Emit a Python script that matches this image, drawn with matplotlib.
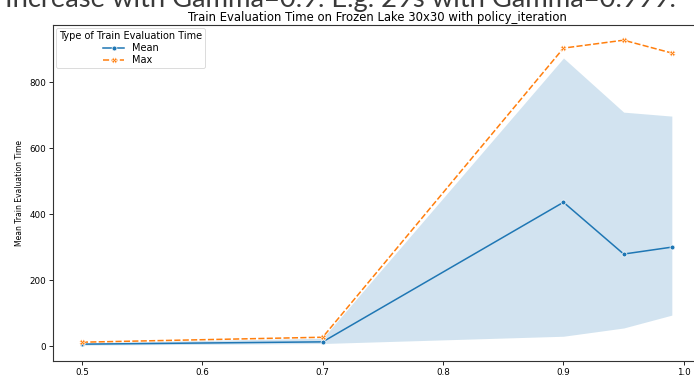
"""
Train evaluation time vs discount rate (mean with band, and max).
"""
import matplotlib
matplotlib.use("Agg")
import matplotlib.pyplot as plt
import numpy as np

# --- data ---
gammas = [0.5, 0.7, 0.9, 0.95, 0.99]
mean_time = [6, 13, 436, 279, 300]
mean_low = [3, 8, 30, 55, 94]
mean_high = [10, 24, 873, 709, 697]
max_time = [12, 27, 903, 927, 888]

x_ticks = [0.5, 0.6, 0.7, 0.8, 0.9, 1.0]
y_ticks = [0, 200, 400, 600, 800]

title = "Train Evaluation Time on Frozen Lake 30x30 with policy_iteration"
slide_text = "Increase with Gamma=0.9. E.g. 29s with Gamma=0.999."


def main():
    fig = plt.figure(figsize=(6.94, 3.81), dpi=100)
    # axes runs past the right edge, like the cropped screenshot
    ax = fig.add_axes([53 / 694, 20 / 381, 667 / 694, 336 / 381])
    # original axes was centred at x=377 px before the crop
    mid = (377 - 53) / 667

    ax.fill_between(gammas, mean_low, mean_high, color="#1f77b4", alpha=0.2, linewidth=0)
    ax.plot(gammas, mean_time, color="#1f77b4", linewidth=1.1, marker="o",
            markersize=3.5, markeredgecolor="white", markeredgewidth=0.5, label="Mean")
    ax.plot(gammas, max_time, color="#ff7f0e", linewidth=1.1, dashes=(4, 1.5),
            marker="X", markersize=4, markeredgecolor="white", markeredgewidth=0.4,
            label="Max")

    ax.set_xlim(0.476, 1.030)
    ax.set_ylim(-45, 973)
    ax.set_xticks(x_ticks)
    ax.set_yticks(y_ticks)
    ax.tick_params(labelsize=6.3, length=3, width=0.6, pad=2)
    for s in ax.spines.values():
        s.set_linewidth(0.8)
        s.set_color("#333333")

    ax.set_xlabel("Discount Rate", fontsize=7, labelpad=3, x=mid)
    ax.set_ylabel("Mean Train Evaluation Time", fontsize=5.5, labelpad=4)
    ax.set_title(title, fontsize=8.4, pad=3, x=mid)

    leg = ax.legend(title="Type of Train Evaluation Time", loc="upper left",
                    fontsize=7, title_fontsize=7, borderaxespad=0.35,
                    handlelength=2.2, labelspacing=0.2, borderpad=0.3)
    leg.get_frame().set_linewidth(0.6)

    fig.text(5 / 694, 1 - 7 / 381, slide_text, fontsize=19.7, family="Lato",
             color="#3a3a3a", va="baseline", ha="left")

    fig.savefig("out.png", dpi=100)
    plt.close(fig)


if __name__ == "__main__":
    main()
